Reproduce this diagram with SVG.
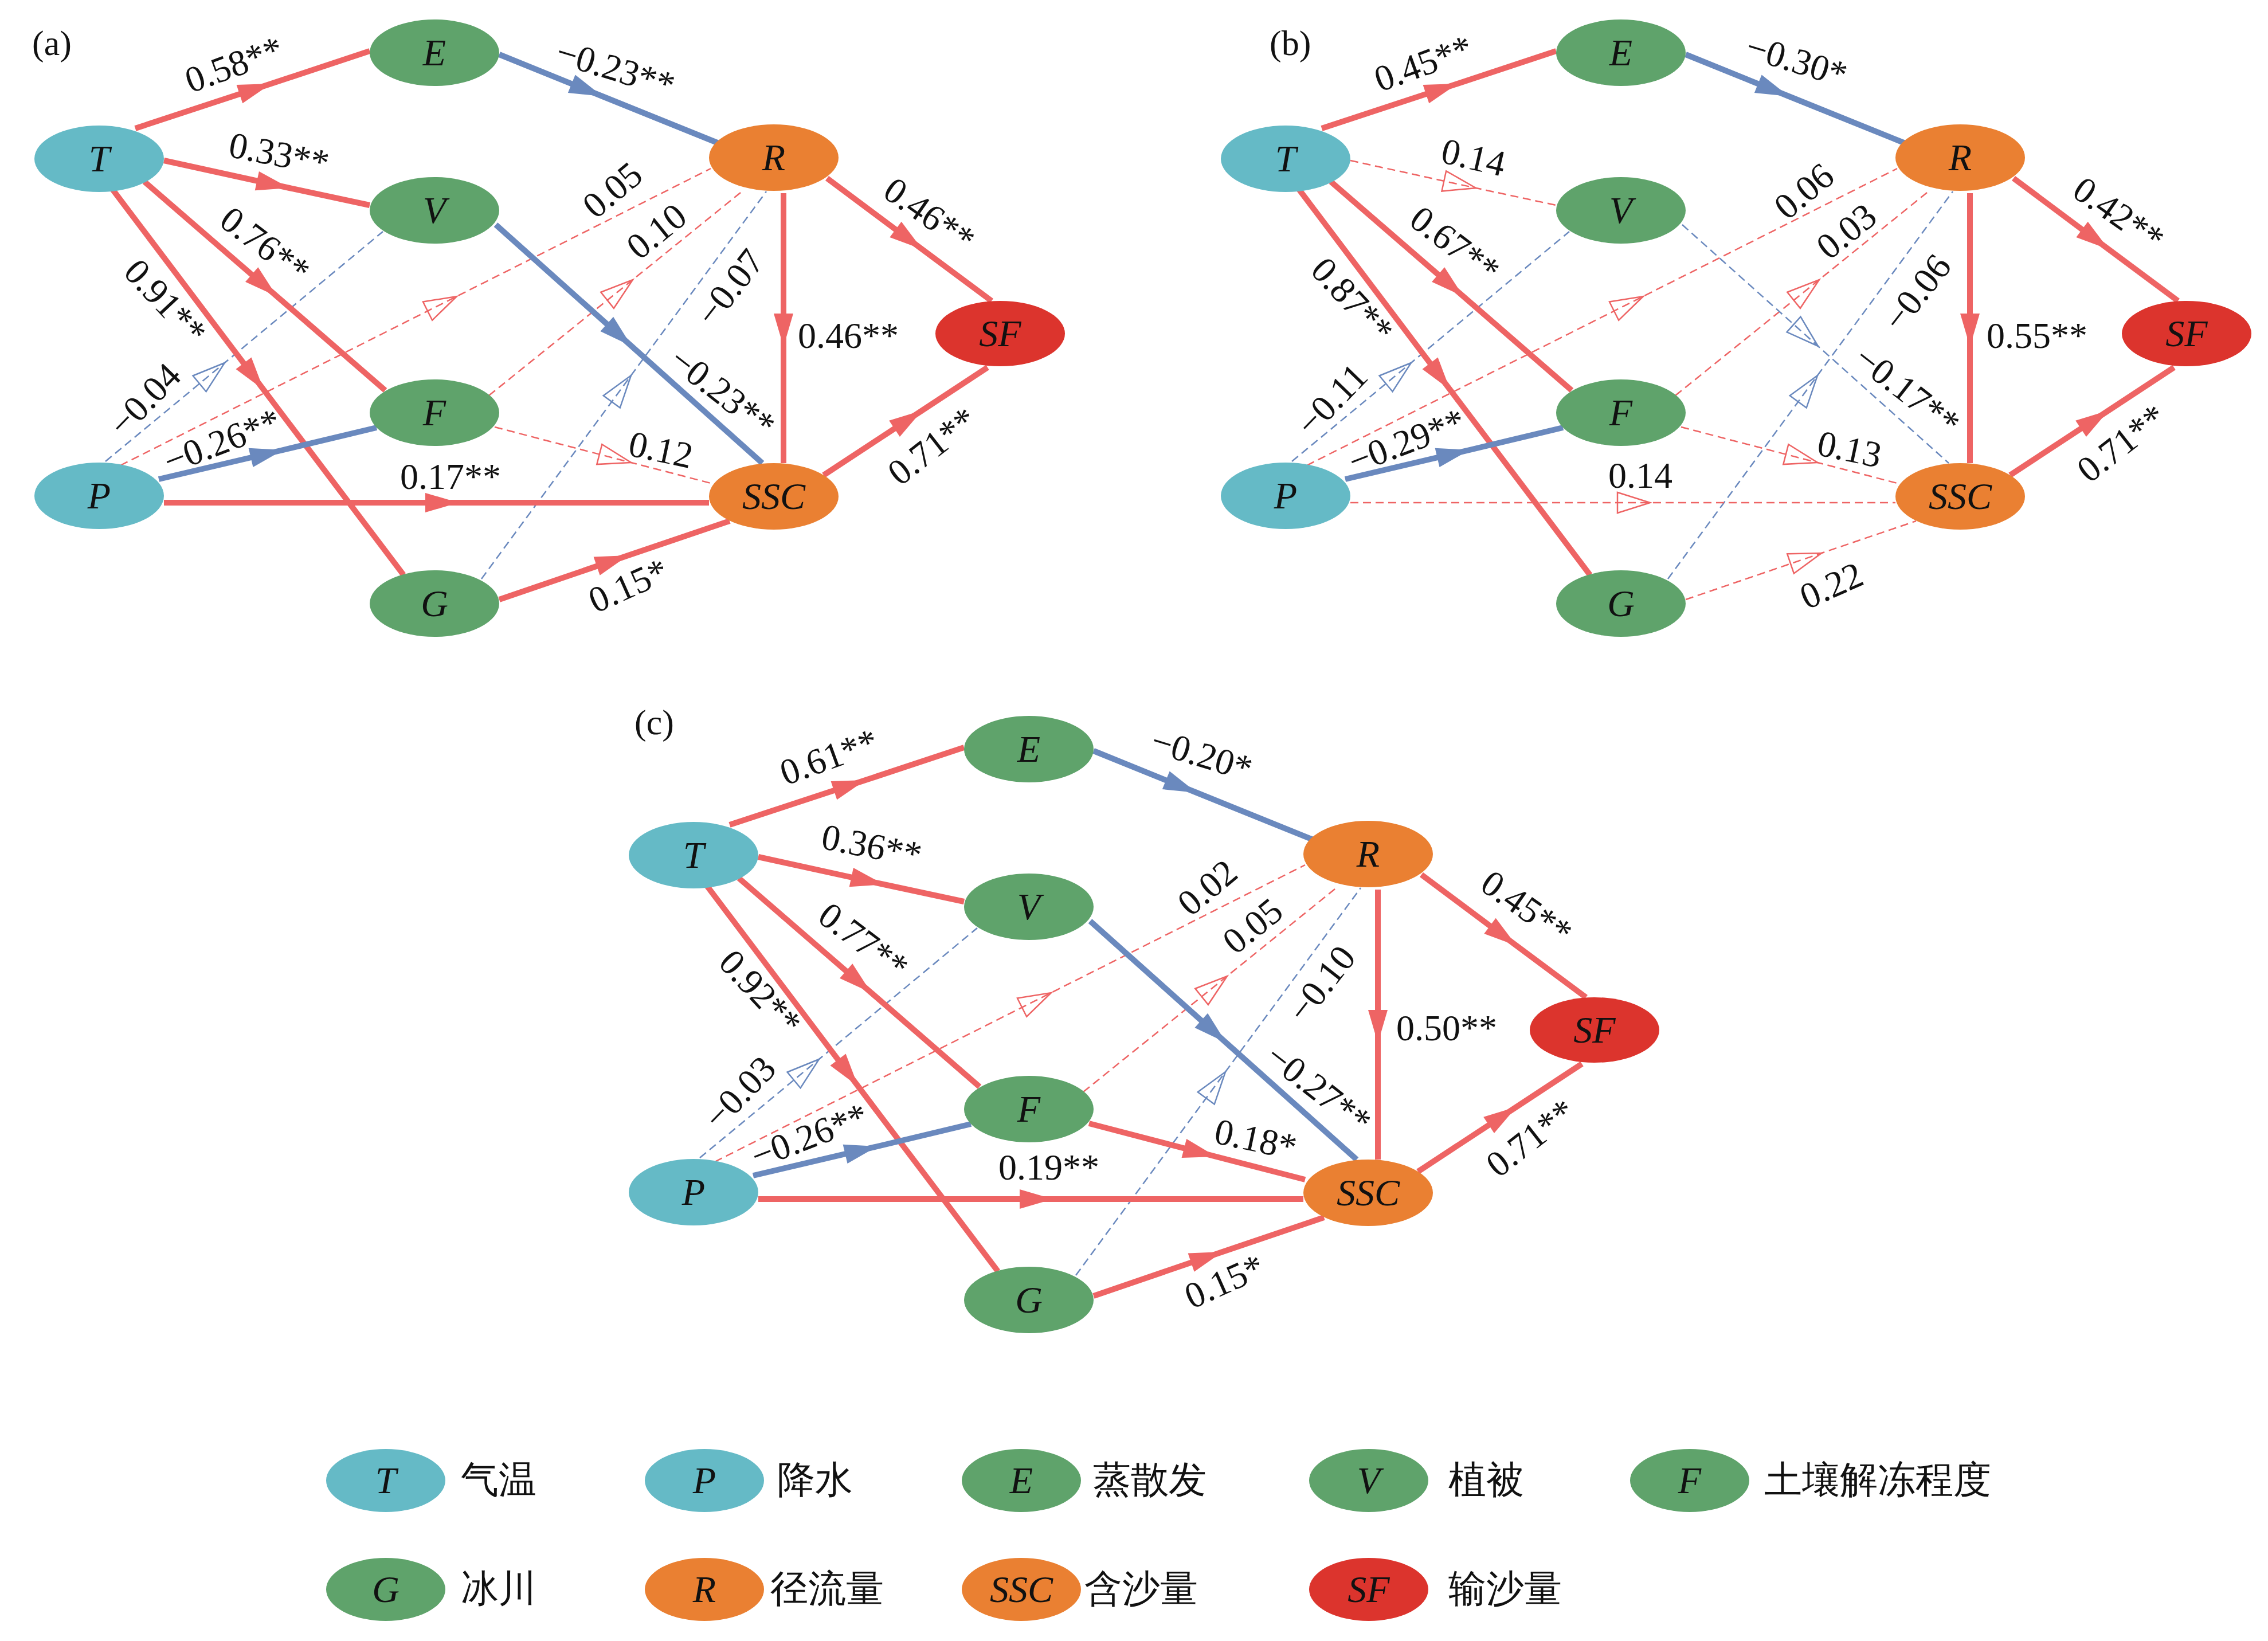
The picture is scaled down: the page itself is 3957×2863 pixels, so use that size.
<svg xmlns="http://www.w3.org/2000/svg" width="3957" height="2863" viewBox="0 0 3957 2863">
<style>
.nd text{font-family:"Liberation Serif","Times New Roman",serif;font-style:italic;font-size:66px;text-anchor:middle;fill:#111}
.lbl{font-family:"Liberation Serif","Times New Roman",serif;font-size:64px;text-anchor:middle;fill:#111}
.ttl{font-family:"Liberation Serif","Times New Roman",serif;font-size:62px;fill:#111}
.cj{font-family:"Noto Sans CJK SC","Noto Sans CJK JP",sans-serif;font-size:66px;fill:#111}
.sr{stroke:#EE6464;stroke-width:10;fill:none;marker-mid:url(#fr)}
.sb{stroke:#6A89BE;stroke-width:10;fill:none;marker-mid:url(#fb)}
.dr{stroke:#EE6464;stroke-width:2.5;stroke-dasharray:14 8;fill:none;marker-mid:url(#or)}
.db{stroke:#6A89BE;stroke-width:2.5;stroke-dasharray:14 8;fill:none;marker-mid:url(#ob)}
.cT{fill:#65BAC6}.cG{fill:#5FA36B}.cO{fill:#EA8032}.cS{fill:#DC342D}
</style>
<defs>
<marker id="fr" markerUnits="userSpaceOnUse" markerWidth="60" markerHeight="36" refX="58" refY="17" orient="auto" overflow="visible"><path d="M0,0 L58,17 L0,34 Z" fill="#EE6464"/></marker>
<marker id="fb" markerUnits="userSpaceOnUse" markerWidth="60" markerHeight="36" refX="58" refY="17" orient="auto" overflow="visible"><path d="M0,0 L58,17 L0,34 Z" fill="#6A89BE"/></marker>
<marker id="or" markerUnits="userSpaceOnUse" markerWidth="62" markerHeight="40" refX="58" refY="19" orient="auto" overflow="visible"><path d="M1,1 L58,19 L1,37 Z" fill="none" stroke="#EE6464" stroke-width="2.5"/></marker>
<marker id="ob" markerUnits="userSpaceOnUse" markerWidth="62" markerHeight="40" refX="58" refY="19" orient="auto" overflow="visible"><path d="M1,1 L58,19 L1,37 Z" fill="none" stroke="#6A89BE" stroke-width="2.5"/></marker>
</defs>
<rect width="3957" height="2863" fill="#fff"/>

<!-- Panel (a) -->
<g id="panel-a">
<text class="ttl" x="56" y="96">(a)</text>
<g id="a-connectors">
<path class="sr" d="M236 224 L473 146 L645 89"/>
<path class="sb" d="M871 95 L1051 168 L1254 250"/>
<path class="sr" d="M286 280 L505 328 L645 358"/>
<path class="dr" d="M210 812 L797 517 L1240 294"/>
<path class="dr" d="M853 690 L1104 488 L1297 332"/>
<path class="db" d="M840 1010 L1101 655 L1337 334"/>
<path class="db" d="M184 805 L392 633 L668 404"/>
<path class="dr" d="M863 745 L1101 807 L1240 843"/>
<path class="sb" d="M865 392 L1102 604 L1330 808"/>
<path class="sr" d="M252 317 L483 517 L672 681"/>
<path class="sr" d="M196 330 L460 680 L704 1003"/>
<path class="sb" d="M277 836 L494 785 L657 746"/>
<path class="sr" d="M286 877 L800 877 L1237 877"/>
<path class="sr" d="M871 1046 L1096 969 L1273 909"/>
<path class="sr" d="M1367 337 L1367 605 L1367 808"/>
<path class="sr" d="M1443 311 L1609 435 L1730 525"/>
<path class="sr" d="M1437 829 L1609 716 L1723 641"/>
</g>
<g id="a-labels">
<text class="lbl" transform="translate(408,112) rotate(-20)" y="22">0.58**</text>
<text class="lbl" transform="translate(1074,119) rotate(17)" y="22">−0.23**</text>
<text class="lbl" transform="translate(487,268) rotate(11)" y="22">0.33**</text>
<text class="lbl" transform="translate(463,427) rotate(37)" y="22">0.76**</text>
<text class="lbl" transform="translate(289,526) rotate(47)" y="22">0.91**</text>
<text class="lbl" transform="translate(252,697) rotate(-46)" y="22">−0.04</text>
<text class="lbl" transform="translate(387,769) rotate(-21)" y="22">−0.26**</text>
<text class="lbl" transform="translate(786,831)" y="22">0.17**</text>
<text class="lbl" transform="translate(1096,1021) rotate(-24)" y="22">0.15*</text>
<text class="lbl" transform="translate(1261,684) rotate(38)" y="22">−0.23**</text>
<text class="lbl" transform="translate(1480,585)" y="22">0.46**</text>
<text class="lbl" transform="translate(1622,374) rotate(35)" y="22">0.46**</text>
<text class="lbl" transform="translate(1626,778) rotate(-38)" y="22">0.71**</text>
<text class="lbl" transform="translate(1068,331) rotate(-40)" y="22">0.05</text>
<text class="lbl" transform="translate(1145,403) rotate(-39)" y="22">0.10</text>
<text class="lbl" transform="translate(1273,501) rotate(-52)" y="22">−0.07</text>
<text class="lbl" transform="translate(1153,784) rotate(12)" y="22">0.12</text>
</g>
<g id="a-T" class="nd"><ellipse class="cT" cx="173" cy="277" rx="113" ry="58"/><text x="173" y="299">T</text></g>
<g id="a-P" class="nd"><ellipse class="cT" cx="173" cy="865" rx="113" ry="58"/><text x="173" y="887">P</text></g>
<g id="a-E" class="nd"><ellipse class="cG" cx="758" cy="92" rx="113" ry="58"/><text x="758" y="114">E</text></g>
<g id="a-V" class="nd"><ellipse class="cG" cx="758" cy="367" rx="113" ry="58"/><text x="758" y="389">V</text></g>
<g id="a-F" class="nd"><ellipse class="cG" cx="758" cy="720" rx="113" ry="58"/><text x="758" y="742">F</text></g>
<g id="a-G" class="nd"><ellipse class="cG" cx="758" cy="1053" rx="113" ry="58"/><text x="758" y="1075">G</text></g>
<g id="a-R" class="nd"><ellipse class="cO" cx="1350" cy="275" rx="113" ry="58"/><text x="1350" y="297">R</text></g>
<g id="a-SSC" class="nd"><ellipse class="cO" cx="1350" cy="866" rx="113" ry="58"/><text x="1350" y="888">SSC</text></g>
<g id="a-SF" class="nd"><ellipse class="cS" cx="1745" cy="582" rx="113" ry="57"/><text x="1745" y="604">SF</text></g>
</g>

<!-- Panel (b) -->
<g id="panel-b" transform="translate(2070,0)">
<text class="ttl" x="145" y="96">(b)</text>
<g id="b-connectors">
<path class="sr" d="M236 224 L473 146 L645 89"/>
<path class="sb" d="M871 95 L1051 168 L1254 250"/>
<path class="dr" d="M286 280 L505 328 L645 358"/>
<path class="dr" d="M210 812 L797 517 L1240 294"/>
<path class="dr" d="M853 690 L1104 488 L1297 332"/>
<path class="db" d="M840 1010 L1101 655 L1337 334"/>
<path class="db" d="M184 805 L392 633 L668 404"/>
<path class="dr" d="M863 745 L1101 807 L1240 843"/>
<path class="db" d="M865 392 L1102 604 L1330 808"/>
<path class="dr" d="M286 877 L809 877 L1237 877"/>
<path class="dr" d="M871 1046 L1108 965 L1273 909"/>
<path class="sr" d="M252 317 L483 517 L672 681"/>
<path class="sr" d="M196 330 L460 680 L704 1003"/>
<path class="sb" d="M277 836 L494 785 L657 746"/>
<path class="sr" d="M1367 337 L1367 605 L1367 808"/>
<path class="sr" d="M1443 311 L1609 435 L1730 525"/>
<path class="sr" d="M1437 829 L1609 716 L1723 641"/>
</g>
<g id="b-labels">
<text class="lbl" transform="translate(413,110) rotate(-20)" y="22">0.45**</text>
<text class="lbl" transform="translate(1065,105) rotate(17)" y="22">−0.30*</text>
<text class="lbl" transform="translate(501,274) rotate(13)" y="22">0.14</text>
<text class="lbl" transform="translate(469,426) rotate(37)" y="22">0.67**</text>
<text class="lbl" transform="translate(290,523) rotate(47)" y="22">0.87**</text>
<text class="lbl" transform="translate(253,697) rotate(-46)" y="22">−0.11</text>
<text class="lbl" transform="translate(384,769) rotate(-21)" y="22">−0.29**</text>
<text class="lbl" transform="translate(792,829)" y="22">0.14</text>
<text class="lbl" transform="translate(1077,333) rotate(-40)" y="22">0.06</text>
<text class="lbl" transform="translate(1151,403) rotate(-39)" y="22">0.03</text>
<text class="lbl" transform="translate(1274,510) rotate(-52)" y="22">−0.06</text>
<text class="lbl" transform="translate(1484,585)" y="22">0.55**</text>
<text class="lbl" transform="translate(1627,373) rotate(35)" y="22">0.42**</text>
<text class="lbl" transform="translate(1631,773) rotate(-38)" y="22">0.71**</text>
<text class="lbl" transform="translate(1258,681) rotate(38)" y="22">−0.17**</text>
<text class="lbl" transform="translate(1157,783) rotate(12)" y="22">0.13</text>
<text class="lbl" transform="translate(1125,1021) rotate(-24)" y="22">0.22</text>
</g>
<g id="b-T" class="nd"><ellipse class="cT" cx="173" cy="277" rx="113" ry="58"/><text x="173" y="299">T</text></g>
<g id="b-P" class="nd"><ellipse class="cT" cx="173" cy="865" rx="113" ry="58"/><text x="173" y="887">P</text></g>
<g id="b-E" class="nd"><ellipse class="cG" cx="758" cy="92" rx="113" ry="58"/><text x="758" y="114">E</text></g>
<g id="b-V" class="nd"><ellipse class="cG" cx="758" cy="367" rx="113" ry="58"/><text x="758" y="389">V</text></g>
<g id="b-F" class="nd"><ellipse class="cG" cx="758" cy="720" rx="113" ry="58"/><text x="758" y="742">F</text></g>
<g id="b-G" class="nd"><ellipse class="cG" cx="758" cy="1053" rx="113" ry="58"/><text x="758" y="1075">G</text></g>
<g id="b-R" class="nd"><ellipse class="cO" cx="1350" cy="275" rx="113" ry="58"/><text x="1350" y="297">R</text></g>
<g id="b-SSC" class="nd"><ellipse class="cO" cx="1350" cy="866" rx="113" ry="58"/><text x="1350" y="888">SSC</text></g>
<g id="b-SF" class="nd"><ellipse class="cS" cx="1745" cy="582" rx="113" ry="57"/><text x="1745" y="604">SF</text></g>
</g>

<!-- Panel (c) -->
<g id="panel-c" transform="translate(1037,1215)">
<text class="ttl" x="70" y="66">(c)</text>
<g id="c-connectors">
<path class="sr" d="M236 224 L473 146 L645 89"/>
<path class="sb" d="M871 95 L1051 168 L1254 250"/>
<path class="sr" d="M286 280 L505 328 L645 358"/>
<path class="dr" d="M210 812 L797 517 L1240 294"/>
<path class="dr" d="M853 690 L1104 488 L1297 332"/>
<path class="db" d="M840 1010 L1101 655 L1337 334"/>
<path class="db" d="M184 805 L392 633 L668 404"/>
<path class="sr" d="M863 745 L1085 803 L1240 843"/>
<path class="sb" d="M865 392 L1102 604 L1330 808"/>
<path class="sr" d="M252 317 L483 517 L672 681"/>
<path class="sr" d="M196 330 L460 680 L704 1003"/>
<path class="sb" d="M277 836 L494 785 L657 746"/>
<path class="sr" d="M286 877 L800 877 L1237 877"/>
<path class="sr" d="M871 1046 L1096 969 L1273 909"/>
<path class="sr" d="M1367 337 L1367 605 L1367 808"/>
<path class="sr" d="M1443 311 L1609 435 L1730 525"/>
<path class="sr" d="M1437 829 L1609 716 L1723 641"/>
</g>
<g id="c-labels">
<text class="lbl" transform="translate(409,105) rotate(-20)" y="22">0.61**</text>
<text class="lbl" transform="translate(1060,101) rotate(17)" y="22">−0.20*</text>
<text class="lbl" transform="translate(484,260) rotate(11)" y="22">0.36**</text>
<text class="lbl" transform="translate(470,426) rotate(37)" y="22">0.77**</text>
<text class="lbl" transform="translate(290,516) rotate(47)" y="22">0.92**</text>
<text class="lbl" transform="translate(253,691) rotate(-46)" y="22">−0.03</text>
<text class="lbl" transform="translate(375,766) rotate(-21)" y="22">−0.26**</text>
<text class="lbl" transform="translate(793,821)" y="22">0.19**</text>
<text class="lbl" transform="translate(1069,333) rotate(-40)" y="22">0.02</text>
<text class="lbl" transform="translate(1148,400) rotate(-39)" y="22">0.05</text>
<text class="lbl" transform="translate(1268,501) rotate(-52)" y="22">−0.10</text>
<text class="lbl" transform="translate(1487,578)" y="22">0.50**</text>
<text class="lbl" transform="translate(1627,368) rotate(35)" y="22">0.45**</text>
<text class="lbl" transform="translate(1633,770) rotate(-38)" y="22">0.71**</text>
<text class="lbl" transform="translate(1264,684) rotate(38)" y="22">−0.27**</text>
<text class="lbl" transform="translate(1154,772) rotate(12)" y="22">0.18*</text>
<text class="lbl" transform="translate(1099,1020) rotate(-24)" y="22">0.15*</text>
</g>
<g id="c-T" class="nd"><ellipse class="cT" cx="173" cy="277" rx="113" ry="58"/><text x="173" y="299">T</text></g>
<g id="c-P" class="nd"><ellipse class="cT" cx="173" cy="865" rx="113" ry="58"/><text x="173" y="887">P</text></g>
<g id="c-E" class="nd"><ellipse class="cG" cx="758" cy="92" rx="113" ry="58"/><text x="758" y="114">E</text></g>
<g id="c-V" class="nd"><ellipse class="cG" cx="758" cy="367" rx="113" ry="58"/><text x="758" y="389">V</text></g>
<g id="c-F" class="nd"><ellipse class="cG" cx="758" cy="720" rx="113" ry="58"/><text x="758" y="742">F</text></g>
<g id="c-G" class="nd"><ellipse class="cG" cx="758" cy="1053" rx="113" ry="58"/><text x="758" y="1075">G</text></g>
<g id="c-R" class="nd"><ellipse class="cO" cx="1350" cy="275" rx="113" ry="58"/><text x="1350" y="297">R</text></g>
<g id="c-SSC" class="nd"><ellipse class="cO" cx="1350" cy="866" rx="113" ry="58"/><text x="1350" y="888">SSC</text></g>
<g id="c-SF" class="nd"><ellipse class="cS" cx="1745" cy="582" rx="113" ry="57"/><text x="1745" y="604">SF</text></g>
</g>

<!-- Legend -->
<g id="legend">
<g id="leg-T" class="nd"><ellipse class="cT" cx="673" cy="2583" rx="104" ry="55"/><text x="673" y="2605">T</text><text class="cj" x="804" y="2604" style="font-style:normal;text-anchor:start">气温</text></g>
<g id="leg-P" class="nd"><ellipse class="cT" cx="1229" cy="2583" rx="104" ry="55"/><text x="1229" y="2605">P</text><text class="cj" x="1356" y="2604" style="font-style:normal;text-anchor:start">降水</text></g>
<g id="leg-E" class="nd"><ellipse class="cG" cx="1782" cy="2583" rx="104" ry="55"/><text x="1782" y="2605">E</text><text class="cj" x="1907" y="2604" style="font-style:normal;text-anchor:start">蒸散发</text></g>
<g id="leg-V" class="nd"><ellipse class="cG" cx="2388" cy="2583" rx="104" ry="55"/><text x="2388" y="2605">V</text><text class="cj" x="2527" y="2604" style="font-style:normal;text-anchor:start">植被</text></g>
<g id="leg-F" class="nd"><ellipse class="cG" cx="2948" cy="2583" rx="104" ry="55"/><text x="2948" y="2605">F</text><text class="cj" x="3078" y="2604" style="font-style:normal;text-anchor:start">土壤解冻程度</text></g>
<g id="leg-G" class="nd"><ellipse class="cG" cx="673" cy="2773" rx="104" ry="55"/><text x="673" y="2795">G</text><text class="cj" x="804" y="2794" style="font-style:normal;text-anchor:start">冰川</text></g>
<g id="leg-R" class="nd"><ellipse class="cO" cx="1229" cy="2773" rx="104" ry="55"/><text x="1229" y="2795">R</text><text class="cj" x="1344" y="2794" style="font-style:normal;text-anchor:start">径流量</text></g>
<g id="leg-SSC" class="nd"><ellipse class="cO" cx="1782" cy="2773" rx="104" ry="55"/><text x="1782" y="2795">SSC</text><text class="cj" x="1892" y="2794" style="font-style:normal;text-anchor:start">含沙量</text></g>
<g id="leg-SF" class="nd"><ellipse class="cS" cx="2388" cy="2773" rx="104" ry="55"/><text x="2388" y="2795">SF</text><text class="cj" x="2527" y="2794" style="font-style:normal;text-anchor:start">输沙量</text></g>
</g>
</svg>
